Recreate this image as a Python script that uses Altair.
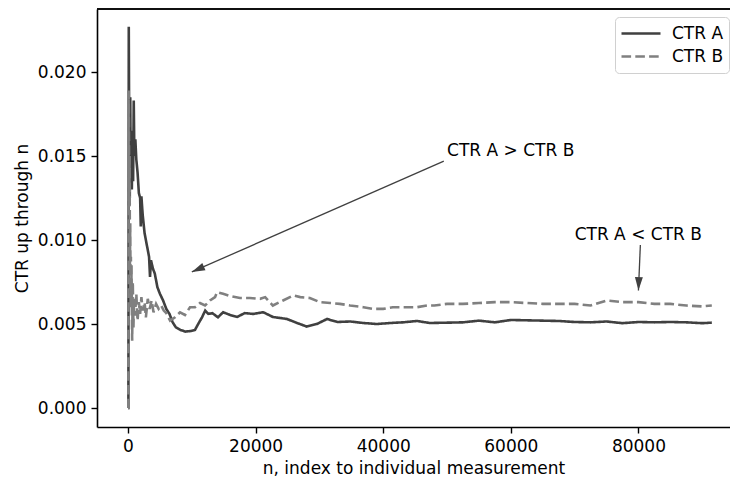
import altair as alt
import pandas as pd

# ---- data ----
a_x = [0, 60, 120, 200, 280, 350, 420, 500, 600, 700, 800, 900, 1000, 1150, 1300, 1500,
       1700, 1900, 2000, 2100, 2300, 2600, 3000, 3300, 3450, 3600, 3900, 4200, 4600, 5000,
       5500, 6000, 6500, 7000, 7500, 8200, 9000, 9800, 10500, 11000, 11600, 12100, 12600,
       13200, 14100, 14900, 16000, 17100, 18300, 19600, 21200, 22700, 24900, 26500, 28000,
       29600, 31200, 32800, 34800, 36900, 39000, 41100, 43100, 45300, 47300, 50000, 52500,
       55000, 57500, 60000, 62500, 65000, 67500, 70000, 72500, 75000, 77500, 80000, 82500,
       85000, 87500, 90000, 91500]
a_y = [0.0, 0.0, 0.0227, 0.0150, 0.0125, 0.0185, 0.0140, 0.0165, 0.0130, 0.0160, 0.0135,
       0.0183, 0.0150, 0.0160, 0.0148, 0.0140, 0.0128, 0.0125, 0.0108, 0.0126, 0.0115,
       0.0104, 0.0096, 0.0090, 0.0078, 0.0088, 0.0083, 0.0080, 0.0072, 0.0068, 0.0064,
       0.0059, 0.0056, 0.0051, 0.0048, 0.00465, 0.00455, 0.00458, 0.00465, 0.0050, 0.0054,
       0.0058, 0.0056, 0.00565, 0.0054, 0.0057, 0.00554, 0.00542, 0.00565, 0.0056, 0.0057,
       0.00542, 0.0053, 0.00506, 0.00485, 0.0050, 0.0053, 0.00512, 0.00515, 0.00506, 0.0050,
       0.00506, 0.0051, 0.00518, 0.00506, 0.00508, 0.0051, 0.0052, 0.0051, 0.00524, 0.00522,
       0.0052, 0.00518, 0.00512, 0.0051, 0.00515, 0.00505, 0.00512, 0.0051, 0.00512, 0.0051,
       0.00505, 0.00508]

b_x = [0, 50, 100, 150, 200, 250, 300, 350, 400, 450, 500, 550, 650, 750, 850, 950, 1100,
       1300, 1500, 1700, 1900, 2100, 2300, 2600, 2800, 3100, 3400, 3700, 4000, 4400, 4800,
       5200, 5600, 6000, 6600, 7370, 8150, 8930, 9720, 10500, 11290, 12070, 12850, 13640,
       13950, 14900, 16000, 17550, 19100, 20700, 21500, 22700, 24300, 25900, 27000, 28500,
       30100, 31700, 33200, 34800, 36900, 38400, 40000, 41500, 43700, 45300, 46900, 48000,
       50000, 52500, 55000, 57500, 60000, 62500, 65000, 67500, 70000, 72500, 75000, 77500,
       80000, 82500, 85000, 87500, 90000, 91500]
b_y = [0.0, 0.0, 0.0189, 0.0160, 0.0120, 0.0150, 0.0085, 0.0110, 0.0070, 0.0090, 0.0060,
       0.0085, 0.0040, 0.0075, 0.0048, 0.0065, 0.0055, 0.0068, 0.0052, 0.0063, 0.0056,
       0.0066, 0.0058, 0.0063, 0.0054, 0.0065, 0.0059, 0.0064, 0.0057, 0.0062, 0.0059,
       0.0061, 0.0058, 0.00565, 0.0052, 0.0054, 0.0057, 0.00554, 0.0060, 0.0060, 0.00625,
       0.0061, 0.0064, 0.0066, 0.0069, 0.0068, 0.00667, 0.00655, 0.00655, 0.0065, 0.0066,
       0.0061, 0.0064, 0.0067, 0.0066, 0.00655, 0.0063, 0.00625, 0.0062, 0.0061, 0.0060,
       0.0059, 0.0059, 0.0060, 0.0060, 0.0060, 0.0061, 0.0061, 0.0062, 0.0062, 0.00625,
       0.0063, 0.0063, 0.00625, 0.0062, 0.0062, 0.0062, 0.0061, 0.0064, 0.0063, 0.0063,
       0.0062, 0.0062, 0.0061, 0.00605, 0.0061]

series_names = ["CTR A", "CTR B"]
series_colors = ["#404040", "#808080"]

x_ticks = [0, 20000, 40000, 60000, 80000]
y_ticks = [0.0, 0.005, 0.010, 0.015, 0.020]

ann_text = ["CTR A > CTR B", "CTR A < CTR B"]
ann_text_x = [50000, 70000]
ann_text_y = [0.015, 0.010]
ann_tail_x = [49500, 80300]
ann_tail_y = [0.0147, 0.0097]
ann_tip_x = [10000, 80000]
ann_tip_y = [0.0081, 0.0070]
ann_head_angle = [246, 182]

FONT = "DejaVu Sans"
FS = 17

df = pd.concat([
    pd.DataFrame({"n": a_x, "ctr": a_y, "series": "CTR A"}),
    pd.DataFrame({"n": b_x, "ctr": b_y, "series": "CTR B"}),
])
ann = pd.DataFrame({
    "text": ann_text, "tx": ann_text_x, "ty": ann_text_y,
    "x1": ann_tail_x, "y1": ann_tail_y, "x2": ann_tip_x, "y2": ann_tip_y,
    "angle": ann_head_angle,
})

xscale = alt.Scale(domain=[-4860, 94350], nice=False, zero=False)
yscale = alt.Scale(domain=[-0.00113, 0.02375], nice=False, zero=False)

lines = alt.Chart(df).mark_line(strokeWidth=2.6).encode(
    x=alt.X("n:Q", scale=xscale,
            axis=alt.Axis(values=x_ticks, format="d",
                          title="n, index to individual measurement")),
    y=alt.Y("ctr:Q", scale=yscale,
            axis=alt.Axis(values=y_ticks, format=".3f", title="CTR up through n")),
    color=alt.Color("series:N", title=None,
                    scale=alt.Scale(domain=series_names, range=series_colors)),
    strokeDash=alt.StrokeDash("series:N", title=None,
                              scale=alt.Scale(domain=series_names,
                                              range=[[1, 0], [9.6, 4.2]])),
)

arrows = alt.Chart(ann).mark_rule(color="#404040", strokeWidth=1.3).encode(
    x=alt.X("x1:Q", scale=xscale), y=alt.Y("y1:Q", scale=yscale),
    x2="x2:Q", y2="y2:Q",
)
heads = alt.Chart(ann).mark_point(
    shape="M0,0L-0.3,1L0.3,1Z", filled=True, color="#404040", size=700, opacity=1,
).encode(
    x=alt.X("x2:Q", scale=xscale), y=alt.Y("y2:Q", scale=yscale),
    angle=alt.Angle("angle:Q", scale=None),
)
texts = alt.Chart(ann).mark_text(
    align="left", baseline="alphabetic", font=FONT, fontSize=FS, color="black",
).encode(
    x=alt.X("tx:Q", scale=xscale), y=alt.Y("ty:Q", scale=yscale), text="text:N",
)
top_spine = alt.Chart(ann).mark_rule(color="black", strokeWidth=1.6).encode(
    y=alt.value(0)
)

chart = alt.layer(lines, arrows, heads, texts, top_spine).properties(
    width=633, height=418,
    padding={"left": 97, "top": 9, "right": 0, "bottom": 54},
    autosize=alt.AutoSizeParams(type="none"),
).configure_view(stroke=None).configure_axis(
    labelFont=FONT, labelFontSize=FS, labelColor="black",
    titleFont=FONT, titleFontSize=FS, titleColor="black", titleFontWeight="normal",
    domainColor="black", domainWidth=1.6, tickColor="black", tickWidth=1.4,
    tickSize=6, labelPadding=5, grid=False,
).configure_axisY(titlePadding=6).configure_axisX(titlePadding=6).configure_legend(
    orient="none", legendX=518, legendY=8,
    labelFont=FONT, labelFontSize=FS, labelColor="black",
    symbolType="stroke", symbolSize=1521, symbolStrokeWidth=2.6,
    clipHeight=23, rowPadding=0, padding=5, labelOffset=10,
    fillColor="white", strokeColor="#d0d0d0", cornerRadius=4,
)

chart.save("out.html", embed_options={"renderer": "svg", "actions": False})
